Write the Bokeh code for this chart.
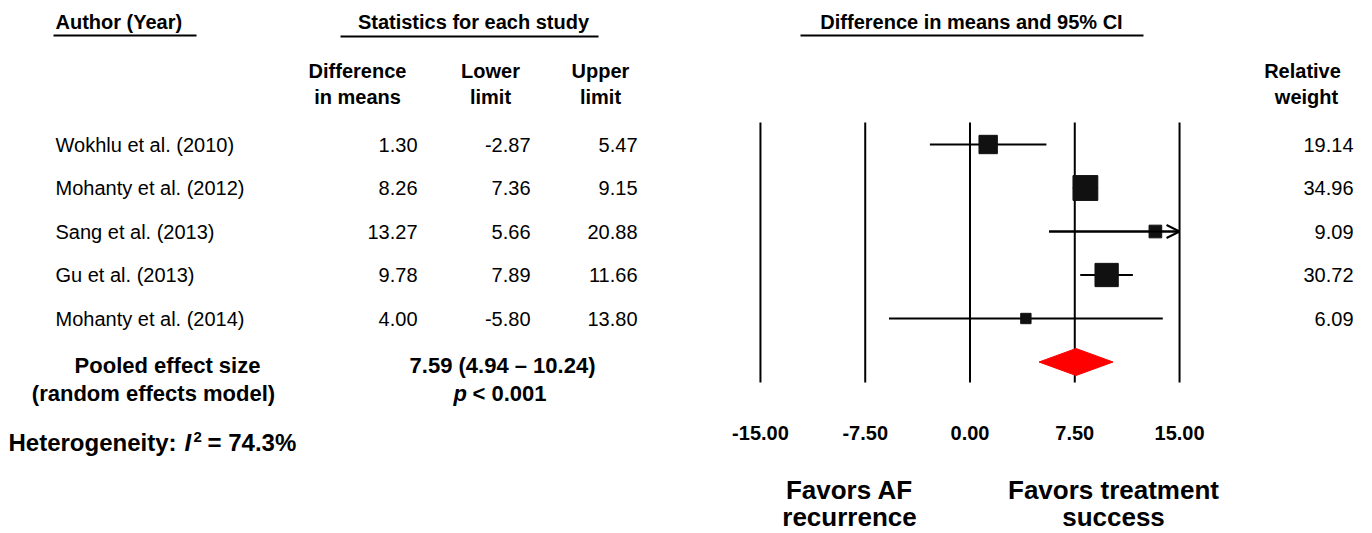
import math
from bokeh.plotting import figure
from bokeh.models import Range1d, Arrow, OpenHead, ColumnDataSource
from bokeh.core.properties import value
from bokeh.embed import file_html
from bokeh.resources import INLINE

# ---------------- data ----------------
studies = ["Wokhlu et al. (2010)", "Mohanty et al. (2012)", "Sang et al. (2013)",
           "Gu et al. (2013)", "Mohanty et al. (2014)"]
diff = [1.30, 8.26, 13.27, 9.78, 4.00]
lower = [-2.87, 7.36, 5.66, 7.89, -5.80]
upper = [5.47, 9.15, 20.88, 11.66, 13.80]
weights = [19.14, 34.96, 9.09, 30.72, 6.09]
pooled_est = 7.59
pooled_lo = 4.94
pooled_hi = 10.24
p_text = "< 0.001"
i2 = 74.3
ticks = [-15.0, -7.5, 0.0, 7.5, 15.0]

# ---------------- layout helpers ----------------
W, H = 1356, 533
OX, OY = 0, 0
X0, SX = 969.5, 13.97   # px of zero, px per unit
Y0, SY = 144.0, 43.5    # px of first row, px per row


def X(px):
    return (px - X0) / SX


def Y(py):
    return (py - Y0) / SY


FONT = value("Liberation Sans")

p = figure(width=W, height=H,
           x_range=Range1d(X(OX), X(OX + W)),
           y_range=Range1d(Y(OY + H), Y(OY)),
           output_backend="svg", toolbar_location=None, min_border=0,
           outline_line_color=None, x_axis_type=None, y_axis_type=None)
p.grid.visible = False
p.background_fill_color = "white"
p.border_fill_color = "white"


def txt(px, py, s, size, style="normal", align="left", color="black"):
    p.text(x=[X(px)], y=[Y(py)], text=[s], text_font=FONT,
           text_font_size=f"{size}px", text_font_style=style,
           text_align=align, text_baseline="middle", text_color=color)


def uline(px0, px1, py):
    p.segment(x0=[X(px0)], y0=[Y(py)], x1=[X(px1)], y1=[Y(py)],
              line_color="black", line_width=2)


# ---------------- headers ----------------
txt(55, 21, "Author (Year)", 20, "bold")
uline(53, 196, 35)
txt(473, 21, "Statistics for each study", 20, "bold", "center")
uline(340, 598, 36)
txt(971, 21, "Difference in means and 95% CI", 20, "bold", "center")
uline(800, 1143, 35)

txt(357, 70, "Difference", 20, "bold", "center")
txt(357, 96, "in means", 20, "bold", "center")
txt(490, 70, "Lower", 20, "bold", "center")
txt(490, 96, "limit", 20, "bold", "center")
txt(600, 70, "Upper", 20, "bold", "center")
txt(600, 96, "limit", 20, "bold", "center")
txt(1302, 70, "Relative", 20, "bold", "center")
txt(1306, 96, "weight", 20, "bold", "center")

# ---------------- table ----------------
rows = list(range(len(studies)))
src = ColumnDataSource(dict(
    row=rows, study=studies,
    d=[f"{v:.2f}" for v in diff],
    lo=[f"{v:.2f}" for v in lower],
    hi=[f"{v:.2f}" for v in upper],
    w=[f"{v:.2f}" for v in weights],
))
common = dict(source=src, text_font=FONT, text_font_size="20px", text_baseline="middle", text_color="black")
p.text(x=X(55), y="row", text="study", text_align="left", **common)
p.text(x=X(417), y="row", text="d", text_align="right", **common)
p.text(x=X(530), y="row", text="lo", text_align="right", **common)
p.text(x=X(637), y="row", text="hi", text_align="right", **common)
p.text(x=X(1353), y="row", text="w", text_align="right", **common)

# ---------------- forest ----------------
p.segment(x0=ticks, y0=Y(122), x1=ticks, y1=Y(382), line_color="black", line_width=2)

xmax = ticks[-1]
ci_hi = [min(u, xmax) for u in upper]
p.segment(x0=lower, y0=rows, x1=ci_hi, y1=rows, line_color="black", line_width=2)
for r, lo, u in zip(rows, lower, upper):
    if u > xmax:
        p.add_layout(Arrow(end=OpenHead(size=13, line_width=2, line_color="black"),
                           x_start=lo, y_start=r, x_end=xmax, y_end=r,
                           line_width=2, line_color="black"))

sizes = [4.2 * math.sqrt(w) for w in weights]
p.rect(x=diff, y=rows, width=sizes, height=sizes, width_units="screen",
       height_units="screen", fill_color="#111111", line_color="#111111")

drow = len(studies)
p.patch(x=[pooled_lo, pooled_est, pooled_hi, pooled_est],
        y=[drow, drow - 0.31, drow, drow + 0.31],
        fill_color="#FF0000", line_color="#FF0000")

p.text(x=ticks, y=Y(432), text=[f"{t:.2f}" for t in ticks], text_font=FONT,
       text_font_size="20px", text_font_style="bold", text_align="center",
       text_baseline="middle", text_color="black")

# ---------------- pooled / footers ----------------
txt(167, 365, "Pooled effect size", 22, "bold", "center")
txt(153, 393, "(random effects model)", 22, "bold", "center")
txt(502, 365, f"{pooled_est:.2f} ({pooled_lo:.2f} \u2013 {pooled_hi:.2f})", 22, "bold", "center")
txt(453, 393, "p", 22, "bold italic", "left")
txt(472, 393, p_text, 22, "bold", "left")

txt(8, 442, "Heterogeneity:", 24, "bold", "left")
txt(184, 442, "I", 24, "bold italic", "left")
txt(193, 436, "2", 15, "bold", "left")
txt(207, 442, f"= {i2:.1f}%", 24, "bold", "left")

txt(849, 489, "Favors AF", 26, "bold", "center")
txt(849, 516, "recurrence", 26, "bold", "center")
txt(1113, 489, "Favors treatment", 26, "bold", "center")
txt(1113, 516, "success", 26, "bold", "center")

open("out.html", "w").write(file_html(p, INLINE))
